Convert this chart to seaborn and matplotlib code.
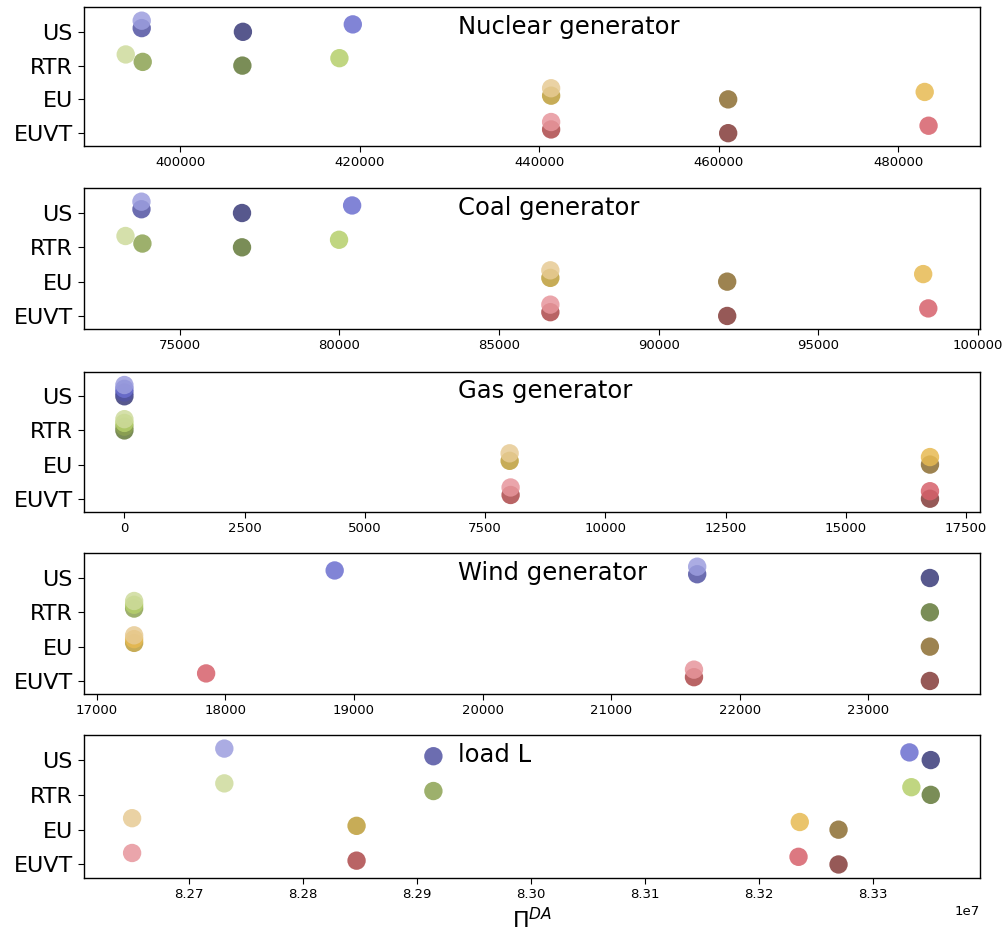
import numpy as np
import pandas as pd
import matplotlib
matplotlib.use("Agg")
import matplotlib.pyplot as plt
import seaborn as sns

# ---------------- data ----------------
groups = ["US", "RTR", "EU", "EUVT"]
titles = ["Nuclear generator", "Coal generator", "Gas generator", "Wind generator", "load L"]

# each row: values of the 4 shades (dark -> light) for one group
nuclear = [[407000, 395730, 419240, 395730],
           [406940, 395840, 417750, 393950],
           [461050, 441330, 482940, 441330],
           [461050, 441330, 483370, 441330]]
coal = [[76950, 73800, 80400, 73800],
        [76950, 73830, 79990, 73300],
        [92150, 86610, 98290, 86610],
        [92150, 86610, 98450, 86610]]
gas = [[0, 0, 0, 0],
       [0, 0, 0, 0],
       [16750, 8010, 16750, 8010],
       [16750, 8030, 16750, 8030]]
wind = [[23480, 21670, 18850, 21670],
        [23480, 17290, 17290, 17290],
        [23480, 17290, 17290, 17290],
        [23480, 21645, 17850, 21645]]
load = [[8.33508e7, 8.29145e7, 8.33321e7, 8.27311e7],
        [8.33508e7, 8.29145e7, 8.33338e7, 8.27311e7],
        [8.32699e7, 8.28471e7, 8.32359e7, 8.26502e7],
        [8.32699e7, 8.28471e7, 8.32348e7, 8.26502e7]]
panels = [nuclear, coal, gas, wind, load]

# ---------------- style / layout ----------------
shade_offset = [0.0, -0.11, -0.22, -0.33]
xlims = [(389300, 489100), (72000, 100070), (-840, 17790), (16900, 23870), (8.2608e7, 8.3394e7)]
ax_px = [(7.5, 146), (188.3, 329), (371.7, 511.7), (553.3, 694), (735, 877.7)]
W, H = 1008, 941

palette = sns.color_palette("tab20b", 16)
hue_order = [f"{g}{k}" for g in groups for k in range(4)]

fig = plt.figure(figsize=(W / 100, H / 100), dpi=100)

for p, (vals, title) in enumerate(zip(panels, titles)):
    top, bot = ax_px[p]
    ax = fig.add_axes([84 / W, 1 - bot / H, 896 / W, (bot - top) / H])
    rows = []
    for gi, g in enumerate(groups):
        for k in range(4):
            rows.append({"x": vals[gi][k], "y": gi + shade_offset[k], "h": f"{g}{k}"})
    df = pd.DataFrame(rows)
    sns.scatterplot(data=df, x="x", y="y", hue="h", hue_order=hue_order,
                    palette=palette, s=175, alpha=0.85, edgecolor="none",
                    legend=False, ax=ax)
    ax.set_yticks(range(len(groups)))
    ax.set_yticklabels(groups, fontsize=16)
    ax.set_ylim(3.38, -0.72)
    ax.set_xlim(*xlims[p])
    ax.set_ylabel("")
    ax.set_xlabel("")
    ax.tick_params(axis="x", labelsize=9.5, length=4)
    ax.tick_params(axis="y", length=4.5)
    ax.xaxis.get_offset_text().set_fontsize(9.5)
    ax.text(0.417, 0.81, title, transform=ax.transAxes, fontsize=17.5,
            ha="left", va="baseline")
    for sp in ax.spines.values():
        sp.set_linewidth(1.0)
    if p == len(panels) - 1:
        ax.set_xlabel(r"$\Pi^{DA}$", fontsize=16)

fig.savefig("out.png", dpi=100)
